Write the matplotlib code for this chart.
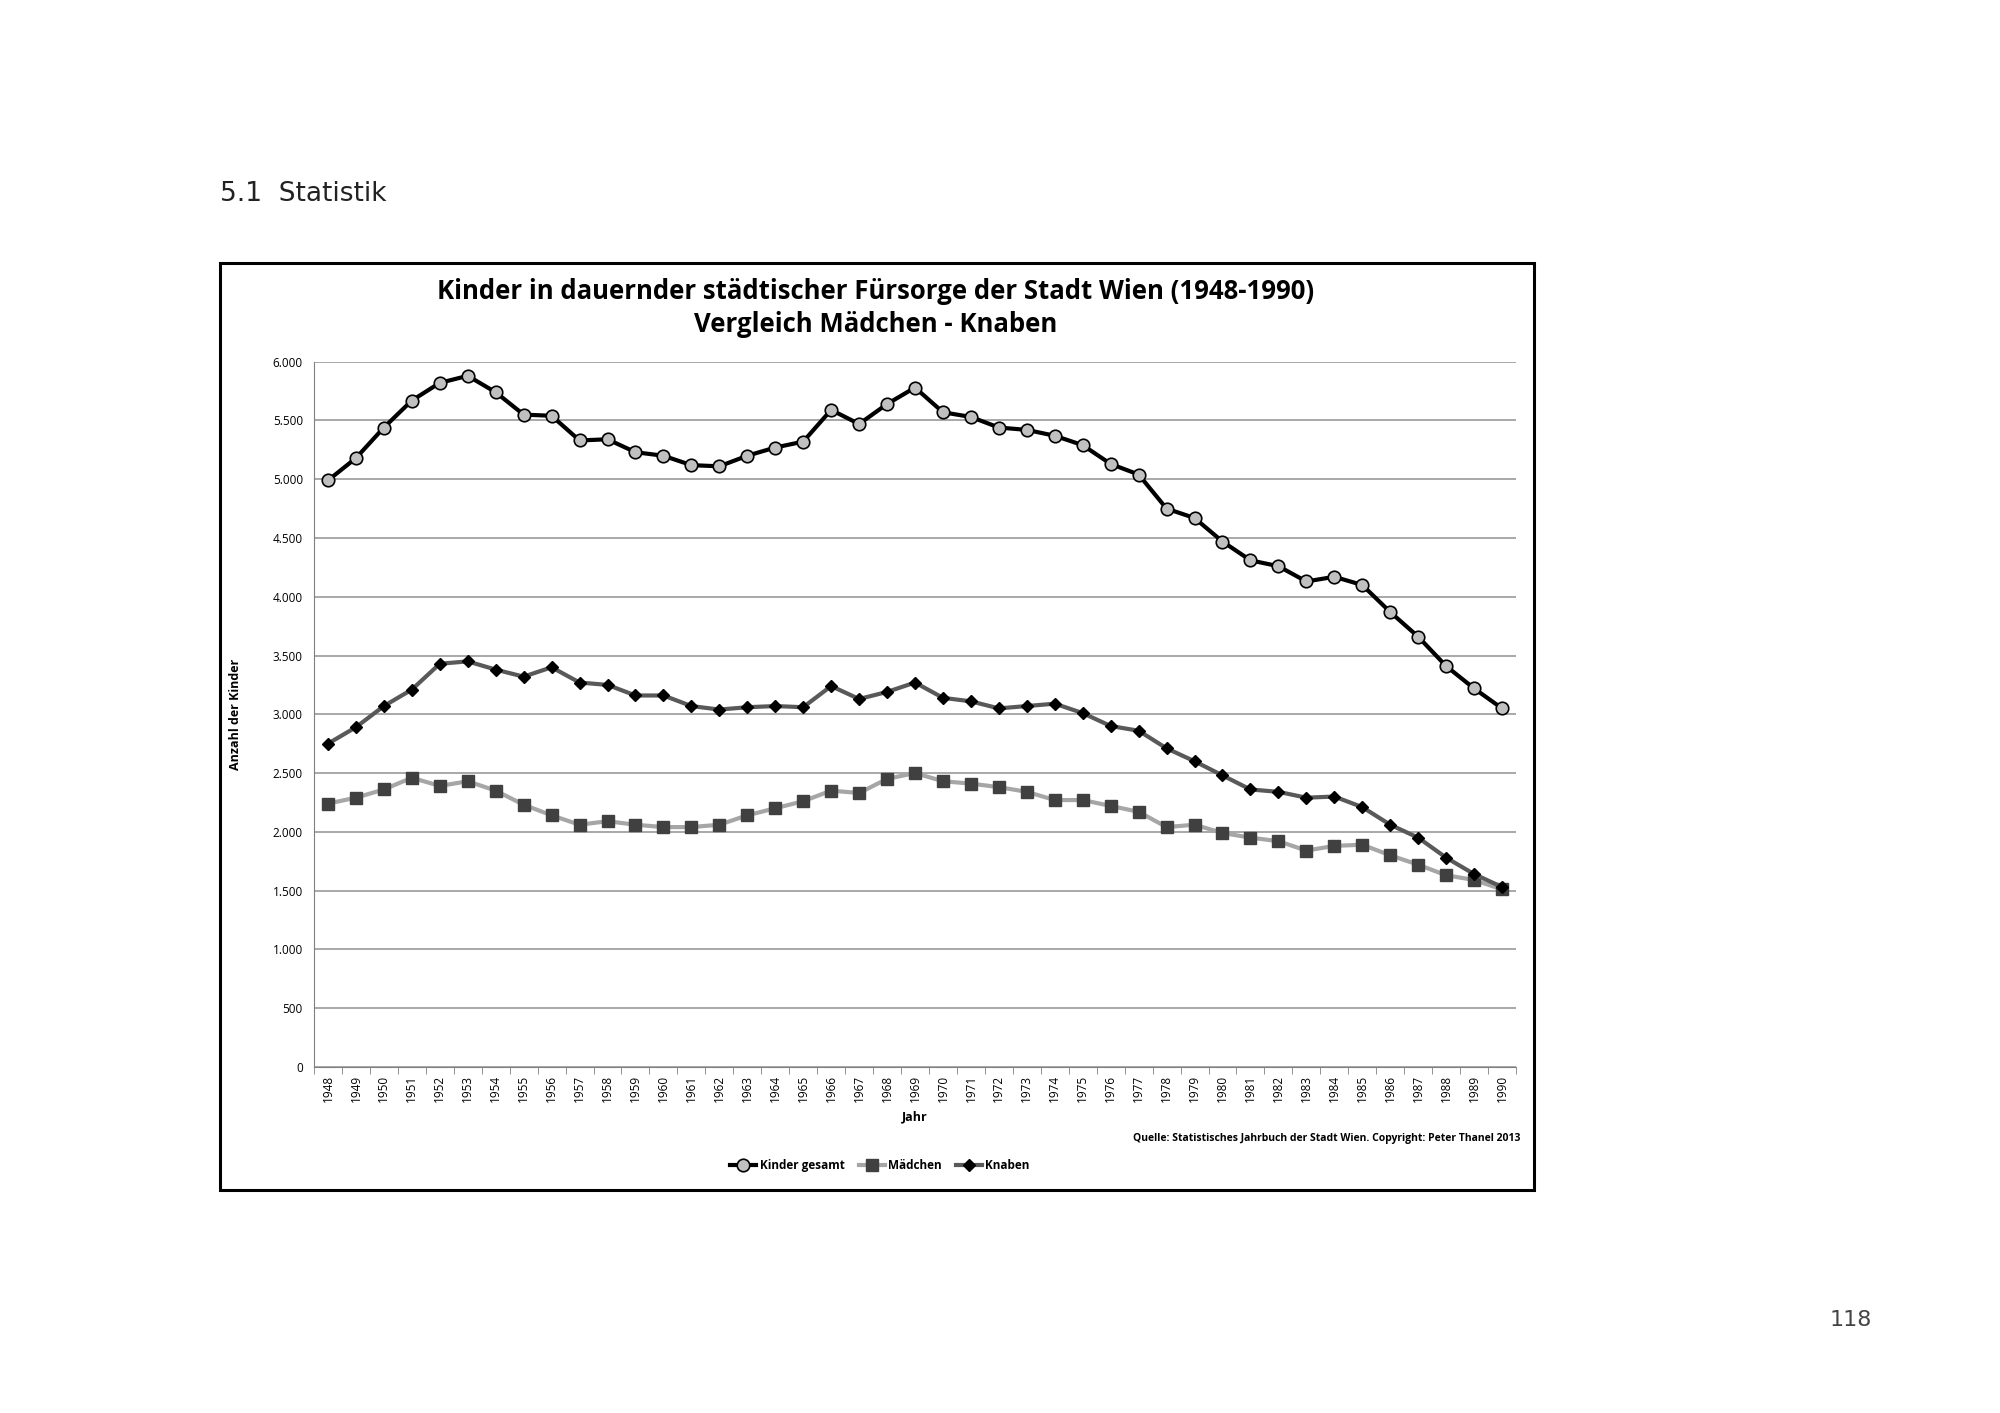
import numpy as np
import matplotlib.pyplot as plt
from matplotlib.patches import Rectangle
from matplotlib.ticker import FuncFormatter

years = list(range(1948, 1991))
gesamt = [4990, 5180, 5440, 5670, 5820, 5880, 5740, 5550, 5540, 5330, 5340, 5230,
          5200, 5120, 5110, 5200, 5270, 5320, 5590, 5470, 5640, 5780, 5570, 5530,
          5440, 5420, 5370, 5290, 5130, 5040, 4750, 4670, 4470, 4310, 4260, 4130,
          4170, 4100, 3870, 3660, 3410, 3220, 3050]
knaben = [2750, 2890, 3070, 3210, 3430, 3450, 3380, 3320, 3400, 3270, 3250, 3160,
          3160, 3070, 3040, 3060, 3070, 3060, 3240, 3130, 3190, 3270, 3140, 3110,
          3050, 3070, 3090, 3010, 2900, 2860, 2710, 2600, 2480, 2360, 2340, 2290,
          2300, 2210, 2060, 1950, 1780, 1640, 1530]
maedchen = [2240, 2290, 2360, 2460, 2390, 2430, 2350, 2230, 2140, 2060, 2090, 2060,
            2040, 2040, 2060, 2140, 2200, 2260, 2350, 2330, 2450, 2500, 2430, 2410,
            2380, 2340, 2270, 2270, 2220, 2170, 2040, 2060, 1990, 1950, 1920, 1840,
            1880, 1890, 1800, 1720, 1630, 1590, 1510]

plt.rcParams['font.family'] = ['Open Sans', 'DejaVu Sans']

fig = plt.figure(figsize=(20, 14.13), dpi=100)
fig.patches.append(Rectangle((0.110, 0.158), 0.657, 0.656, transform=fig.transFigure,
                             fill=False, edgecolor='black', linewidth=2.2))
fig.text(0.110, 0.863, '5.1  Statistik', fontsize=19, family='DejaVu Sans',
         va='center', color='#222222')
fig.text(0.936, 0.066, '118', fontsize=16, family='DejaVu Sans', ha='right',
         va='center', color='#444444')
fig.text(0.438, 0.794, 'Kinder in dauernder städtischer Fürsorge der Stadt Wien (1948-1990)',
         fontsize=18.5, fontweight='bold', ha='center', va='center')
fig.text(0.438, 0.770, 'Vergleich Mädchen - Knaben',
         fontsize=18.5, fontweight='bold', ha='center', va='center')

ax = fig.add_axes([0.157, 0.245, 0.601, 0.499])
x = np.arange(len(years))
ax.plot(x, gesamt, color='black', lw=3, marker='o', ms=9,
        mfc='#c0c0c0', mec='black', mew=1.2, label='Kinder gesamt', zorder=3)
ax.plot(x, maedchen, color='#a6a6a6', lw=3, marker='s', ms=8,
        mfc='#404040', mec='#404040', label='Mädchen', zorder=3)
ax.plot(x, knaben, color='#595959', lw=3, marker='D', ms=6.5,
        mfc='black', mec='black', label='Knaben', zorder=3)

ax.set_xlim(-0.5, len(years) - 0.5)
ax.set_ylim(0, 6000)
ax.set_yticks(range(0, 6001, 500))
ax.yaxis.set_major_formatter(FuncFormatter(lambda v, p: f'{int(v):,}'.replace(',', '.')))
ax.set_xticks(x)
ax.set_xticklabels([str(y) for y in years], rotation=90)
ax.tick_params(axis='x', labelsize=8.5, length=0, pad=6)
ax.tick_params(axis='y', labelsize=8.5, length=0, pad=8)
ax.set_xticks(np.arange(-0.5, len(years), 1), minor=True)
ax.tick_params(axis='x', which='minor', length=5, color='#808080')
ax.grid(axis='y', color='#999999', lw=1.2)
ax.set_axisbelow(True)
for s in ['top', 'right']:
    ax.spines[s].set_visible(False)
ax.spines['left'].set_color('#808080')
ax.spines['bottom'].set_color('#808080')
ax.set_xlabel('Jahr', fontsize=9, fontweight='bold', labelpad=6)
ax.set_ylabel('Anzahl der Kinder', fontsize=9, fontweight='bold', labelpad=22)

fig.text(0.760, 0.194, 'Quelle: Statistisches Jahrbuch der Stadt Wien. Copyright: Peter Thanel 2013',
         fontsize=7.5, fontweight='bold', ha='right', va='center')
fig.legend(*ax.get_legend_handles_labels(), loc='center', bbox_to_anchor=(0.44, 0.175),
           ncol=3, frameon=False, fontsize=8.5, handlelength=2.2, columnspacing=1.2,
           handletextpad=0.3, prop={'weight': 'bold', 'size': 8.5})

fig.savefig('out.png')
